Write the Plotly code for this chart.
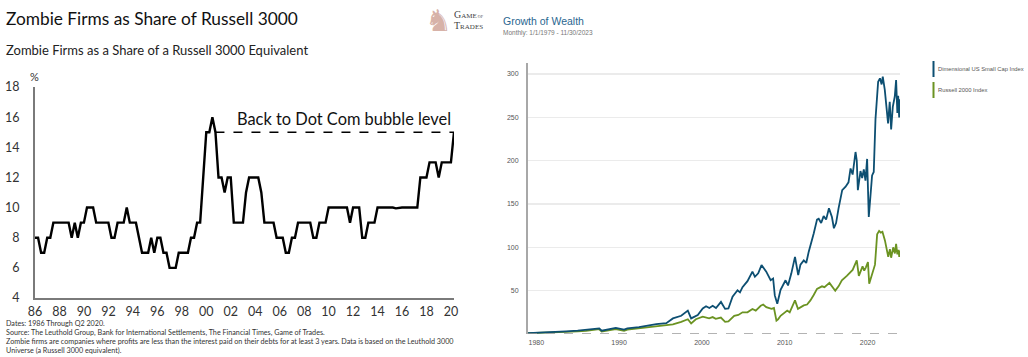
import plotly.graph_objects as go

# ---------------- Left chart data: Zombie firms (% of Russell 3000 equivalent), quarterly
zombie_dates = [
    1986.00, 1986.25, 1986.50, 1986.75, 1987.00, 1987.25, 1987.50, 1987.75,
    1988.00, 1988.25, 1988.50, 1988.75, 1989.00, 1989.25, 1989.50, 1989.75,
    1990.00, 1990.25, 1990.50, 1990.75, 1991.00, 1991.25, 1991.50, 1991.75,
    1992.00, 1992.25, 1992.50, 1992.75, 1993.00, 1993.25, 1993.50, 1993.75,
    1994.00, 1994.25, 1994.50, 1994.75, 1995.00, 1995.25, 1995.50, 1995.75,
    1996.00, 1996.25, 1996.50, 1996.75, 1997.00, 1997.25, 1997.50, 1997.75,
    1998.00, 1998.25, 1998.50, 1998.75, 1999.00, 1999.25, 1999.50, 1999.75,
    2000.00, 2000.25, 2000.50, 2000.75, 2001.00, 2001.25, 2001.50, 2001.75,
    2002.00, 2002.25, 2002.50, 2002.75, 2003.00, 2003.25, 2003.50, 2003.75,
    2004.00, 2004.25, 2004.50, 2004.75, 2005.00, 2005.25, 2005.50, 2005.75,
    2006.00, 2006.25, 2006.50, 2006.75, 2007.00, 2007.25, 2007.50, 2007.75,
    2008.00, 2008.25, 2008.50, 2008.75, 2009.00, 2009.25, 2009.50, 2009.75,
    2010.00, 2010.25, 2010.50, 2010.75, 2011.00, 2011.25, 2011.50, 2011.75,
    2012.00, 2012.25, 2012.50, 2012.75, 2013.00, 2013.25, 2013.50, 2013.75,
    2014.00, 2014.25, 2014.50, 2014.75, 2015.00, 2015.25, 2015.50, 2015.75,
    2016.00, 2016.25, 2016.50, 2016.75, 2017.00, 2017.25, 2017.50, 2017.75,
    2018.00, 2018.25, 2018.50, 2018.75, 2019.00, 2019.25, 2019.50, 2019.75,
    2020.00, 2020.25,
]
zombie_pct = [
    8, 8, 7, 7, 8, 8, 9, 9,
    9, 9, 9, 9, 8, 9, 8, 9,
    9, 10, 10, 10, 9, 9, 9, 9,
    9, 8, 8, 9, 9, 9, 10, 9,
    9, 9, 8, 7, 7, 7, 8, 7,
    8, 8, 7, 7, 6, 6, 6, 7,
    7, 7, 7, 8, 8, 9, 9, 12,
    15, 15, 16, 15, 12, 12, 11, 12,
    12, 9, 9, 9, 9, 11, 12, 12,
    12, 12, 11, 9, 9, 9, 9, 8,
    8, 8, 7, 7, 8, 8, 9, 9,
    9, 9, 9, 8, 8, 9, 9, 9,
    10, 10, 10, 10, 10, 10, 10, 9,
    10, 10, 10, 8, 8, 9, 9, 9,
    10, 10, 10, 10, 10, 10, 9.95, 10,
    10, 10, 10, 10, 10, 10, 12, 12,
    12, 13, 13, 13, 12, 13, 13, 13,
    13, 15,
]
zombie_tickvals = list(range(1986, 2021, 2))
zombie_ticktext = ["86", "88", "90", "92", "94", "96", "98", "00", "02", "04",
                   "06", "08", "10", "12", "14", "16", "18", "20"]
zombie_yticks = [4, 6, 8, 10, 12, 14, 16, 18]

# ---------------- Right chart data: Growth of Wealth (monthly 1/1979 - 11/2023)
dfa_dates = [
    1979.0, 1980.0, 1981.0, 1982.4, 1983.6, 1985.0, 1986.0, 1987.6, 1987.9, 1989.6,
    1990.6, 1991.0, 1992.4, 1994.0, 1994.5, 1995.7, 1996.5, 1997.5, 1998.3, 1998.7,
    1999.5, 2000.1, 2000.5, 2000.9, 2001.3, 2001.7, 2002.3, 2002.8, 2003.2, 2003.7,
    2004.3, 2004.6, 2004.9, 2005.5, 2006.1, 2006.4, 2006.8, 2007.2, 2007.5, 2007.77,
    2008.3, 2008.6, 2008.8, 2009.1, 2009.5, 2010.1, 2010.4, 2010.8, 2011.24, 2011.63,
    2011.9, 2012.3, 2012.6, 2012.9, 2013.5, 2013.9, 2014.1, 2014.4, 2014.7, 2015.0,
    2015.34, 2015.7, 2015.94, 2016.2, 2016.5, 2016.94, 2017.35, 2017.7, 2017.95, 2018.2,
    2018.55, 2018.7, 2018.83, 2019.15, 2019.35, 2019.55, 2019.75, 2019.95, 2020.15, 2020.55,
    2020.75, 2020.96, 2021.28, 2021.5, 2021.7, 2021.84, 2022.08, 2022.28, 2022.48, 2022.68,
    2022.85, 2023.05, 2023.29, 2023.45, 2023.6, 2023.7, 2023.82, 2023.92,
]
dfa_values = [
    1.0, 1.3, 1.6, 1.8, 3.0, 3.8, 4.6, 6.5, 3.8, 7.0,
    5.0, 6.5, 8.0, 11.0, 11.5, 12.5, 18.0, 21.0, 27.0, 18.0,
    22.0, 29.5, 32.0, 30.0, 32.5, 30.0, 37.0, 29.0, 29.5, 43.0,
    50.5, 48.0, 54.0, 61.0, 72.0, 66.0, 70.0, 79.5, 76.0, 72.0,
    62.0, 64.0, 44.5, 35.0, 51.0, 62.0, 56.0, 70.0, 89.0, 68.0,
    80.0, 85.0, 82.0, 95.0, 116.0, 132.0, 133.0, 128.0, 136.0, 132.0,
    145.0, 135.0, 122.0, 128.0, 145.0, 166.0, 170.0, 175.0, 191.0, 184.0,
    210.0, 200.0, 166.0, 188.0, 180.0, 190.0, 177.0, 202.0, 135.0, 183.0,
    187.0, 248.0, 291.0, 295.0, 288.0, 297.0, 282.0, 262.0, 243.0, 268.0,
    236.0, 262.0, 274.0, 293.0, 255.0, 275.0, 250.0, 271.0,
]
r2k_dates = [
    1979.0, 1980.0, 1981.0, 1982.4, 1983.6, 1985.0, 1986.0, 1987.6, 1987.9, 1989.6,
    1990.6, 1991.0, 1992.4, 1994.5, 1995.7, 1996.5, 1997.5, 1998.3, 1998.7, 1999.27,
    2000.1, 2000.5, 2000.87, 2001.3, 2001.67, 2002.29, 2002.8, 2003.2, 2003.9, 2004.4,
    2004.9, 2005.5, 2006.1, 2006.5, 2007.1, 2007.4, 2007.77, 2008.4, 2008.7, 2009.0,
    2009.2, 2009.5, 2010.3, 2010.6, 2011.24, 2011.6, 2012.3, 2012.7, 2013.1, 2013.5,
    2013.9, 2014.5, 2014.8, 2015.4, 2015.7, 2016.1, 2016.5, 2016.9, 2017.5, 2017.95,
    2018.2, 2018.7, 2018.95, 2019.4, 2019.6, 2019.8, 2020.05, 2020.2, 2020.6, 2020.9,
    2021.16, 2021.4, 2021.6, 2021.8, 2022.1, 2022.3, 2022.5, 2022.7, 2022.85, 2023.1,
    2023.3, 2023.45, 2023.6, 2023.75, 2023.83, 2023.92,
]
r2k_values = [
    1.0, 1.2, 1.4, 1.6, 2.5, 3.0, 3.6, 5.5, 2.8, 5.5,
    3.6, 5.0, 6.5, 8.0, 9.5, 11.0, 14.0, 17.0, 12.3, 17.0,
    20.0, 18.5, 18.0, 19.5, 17.5, 19.0, 14.0, 14.5, 21.0, 22.0,
    25.0, 25.0, 28.8, 27.0, 32.6, 34.0, 31.0, 29.0, 30.0, 15.5,
    17.0, 21.0, 27.0, 25.0, 38.8, 29.0, 33.0, 34.0, 38.8, 45.0,
    52.0, 55.0, 54.0, 59.0, 55.0, 50.0, 55.0, 62.0, 67.0, 72.0,
    74.0, 85.0, 67.0, 78.0, 73.0, 77.0, 83.0, 58.0, 72.0, 80.0,
    115.0, 119.0, 117.0, 118.0, 108.0, 100.0, 89.0, 98.0, 88.0, 100.0,
    93.0, 104.0, 92.0, 97.0, 89.0, 96.0,
]
gow_xticks = [1980, 1990, 2000, 2010, 2020]
gow_yticks = [50, 100, 150, 200, 250, 300]
series_names = ["Dimensional US Small Cap Index", "Russell 2000 Index"]
series_colors = ["#0d4f72", "#6b9322"]

W, H = 1028, 357
def px(x):
    return x / W
def py(y):
    return 1 - y / H

fig = go.Figure()

# left chart
fig.add_trace(go.Scatter(x=zombie_dates, y=zombie_pct, mode="lines",
                         line=dict(color="#000000", width=2.4), xaxis="x", yaxis="y",
                         showlegend=False, hoverinfo="skip"))
peak_i = zombie_pct.index(max(zombie_pct))
fig.add_trace(go.Scatter(x=[zombie_dates[peak_i + 1], zombie_dates[-1]],
                         y=[zombie_pct[-1], zombie_pct[-1]], mode="lines",
                         line=dict(color="#000000", width=1.4, dash="dash"),
                         xaxis="x", yaxis="y", showlegend=False, hoverinfo="skip"))

# right chart
fig.add_trace(go.Scatter(x=r2k_dates, y=r2k_values, mode="lines", name=series_names[1],
                         line=dict(color=series_colors[1], width=1.8), xaxis="x2", yaxis="y2",
                         showlegend=False, hoverinfo="skip"))
fig.add_trace(go.Scatter(x=dfa_dates, y=dfa_values, mode="lines", name=series_names[0],
                         line=dict(color=series_colors[0], width=1.8), xaxis="x2", yaxis="y2",
                         showlegend=False, hoverinfo="skip"))

left_font = "Lato, 'Open Sans', sans-serif"
right_font = "'Liberation Sans', Arial, sans-serif"

fig.update_layout(
    width=W, height=H, autosize=False,
    margin=dict(l=0, r=0, t=0, b=0, pad=0, autoexpand=False),
    paper_bgcolor="white", plot_bgcolor="white",
    showlegend=False,
    xaxis=dict(domain=[px(35), px(454)], range=[1986, 2020.25],
               tickvals=zombie_tickvals, ticktext=zombie_ticktext, automargin=False,
               showgrid=False, zeroline=False, showline=True, linecolor="#7a7a7a", linewidth=2,
               ticks="", tickfont=dict(family=left_font, size=12.5, color="#333333"),
               ticklabelstandoff=1, anchor="y"),
    yaxis=dict(domain=[py(298), py(87)], range=[4, 18], tickvals=zombie_yticks,
               automargin=False,
               showgrid=False, zeroline=False, showline=True, linecolor="#7a7a7a", linewidth=2,
               ticks="", tickfont=dict(family=left_font, size=12.5, color="#333333"),
               ticklabelstandoff=11, anchor="x"),
    xaxis2=dict(domain=[px(528), px(900)], range=[1979.0, 2023.92], tickvals=gow_xticks,
                automargin=False,
                showgrid=False, zeroline=False, showline=False, ticks="",
                tickfont=dict(family=right_font, size=7, color="#555555"),
                ticklabelstandoff=3, anchor="y2"),
    yaxis2=dict(domain=[py(334), py(63)], range=[0, 312.7], tickvals=gow_yticks,
                automargin=False,
                showgrid=True, gridcolor="#ebebeb", gridwidth=1.5, zeroline=False,
                showline=True, linecolor="#a8a8a8", linewidth=2, ticks="",
                tickfont=dict(family=right_font, size=7, color="#555555"),
                ticklabelstandoff=6, anchor="x2"),
)

# bottom dashed baseline for right chart
fig.add_shape(type="line", xref="x2 domain", yref="y2", x0=0, x1=1, y0=0, y1=0,
              line=dict(color="#9a9a9a", width=1.3, dash="dash"))

# legend swatches (right chart)
for i, (name, col) in enumerate(zip(series_names, series_colors)):
    y0 = 61 + i * 21
    fig.add_shape(type="line", xref="paper", yref="paper", x0=px(933.5), x1=px(933.5),
                  y0=py(y0), y1=py(y0 + 16), line=dict(color=col, width=2))
    fig.add_annotation(text=name, xref="paper", yref="paper", x=px(935.5), y=py(y0 + 8),
                       xanchor="left", yanchor="middle", showarrow=False,
                       font=dict(family=right_font, size=5.8, color="#555555"))

foot = 7.2
annots = [
    dict(text="Zombie Firms as Share of Russell 3000", x=px(4), y=py(18), size=17.3,
         color="#111111", fam=left_font),
    dict(text="Zombie Firms as a Share of a Russell 3000 Equivalent", x=px(4), y=py(50),
         size=13, color="#222222", fam=left_font),
    dict(text="%", x=px(28), y=py(76), size=11, color="#333333", fam=left_font),
    dict(text="Dates: 1986 Through Q2 2020.", x=px(4), y=py(323.5), size=foot, color="#333333",
         fam=left_font),
    dict(text="Source: The Leuthold Group, Bank for International Settlements, The Financial Times, Game of Trades.",
         x=px(4), y=py(332.5), size=foot, color="#333333", fam=left_font),
    dict(text="Zombie firms are companies where profits are less than the interest paid on their debts for at least 3 years. Data is based on the Leuthold 3000",
         x=px(4), y=py(341.5), size=foot, color="#333333", fam=left_font),
    dict(text="Universe (a Russell 3000 equivalent).", x=px(4), y=py(350), size=foot,
         color="#333333", fam=left_font),
    dict(text="Growth of Wealth", x=px(501), y=py(20.5), size=10.5, color="#2a6690",
         fam=right_font),
    dict(text="Monthly: 1/1/1979 - 11/30/2023", x=px(501), y=py(32.5), size=6.5,
         color="#777777", fam=right_font),
]
for a in annots:
    fig.add_annotation(text=a["text"], xref="paper", yref="paper", x=a["x"], y=a["y"],
                       xanchor="left", yanchor="middle", showarrow=False,
                       font=dict(family=a["fam"], size=a["size"], color=a["color"]))

# annotation on left chart
fig.add_annotation(text="Back to Dot Com bubble level", xref="paper", yref="paper",
                   x=px(453), y=py(119), xanchor="right", yanchor="middle", showarrow=False,
                   font=dict(family=left_font, size=16.4, color="#111111"))

# logo approximation (text)
fig.add_annotation(text="\u265e", xref="paper", yref="paper", x=px(438), y=py(20),
                   xanchor="center", yanchor="middle", showarrow=False,
                   font=dict(family="DejaVu Sans", size=30, color="#d7b2a8"))
fig.add_annotation(text="G<span style='font-size:7px'>AME</span><span style='font-size:4px'> OF</span>",
                   xref="paper", yref="paper", x=px(452), y=py(15), xanchor="left",
                   yanchor="middle", showarrow=False,
                   font=dict(family="Liberation Serif", size=10, color="#444444"))
fig.add_annotation(text="T<span style='font-size:7px'>RADES</span>",
                   xref="paper", yref="paper", x=px(452), y=py(26), xanchor="left",
                   yanchor="middle", showarrow=False,
                   font=dict(family="Liberation Serif", size=10, color="#444444"))

fig.write_html(
    "out.html",
    config={"displayModeBar": False, "staticPlot": True},
    post_script=(
        "document.documentElement.style.margin='0';"
        "document.body.style.margin='0';document.body.style.padding='0';"
        "document.documentElement.style.overflow='hidden';document.body.style.overflow='hidden';"
    ),
)
